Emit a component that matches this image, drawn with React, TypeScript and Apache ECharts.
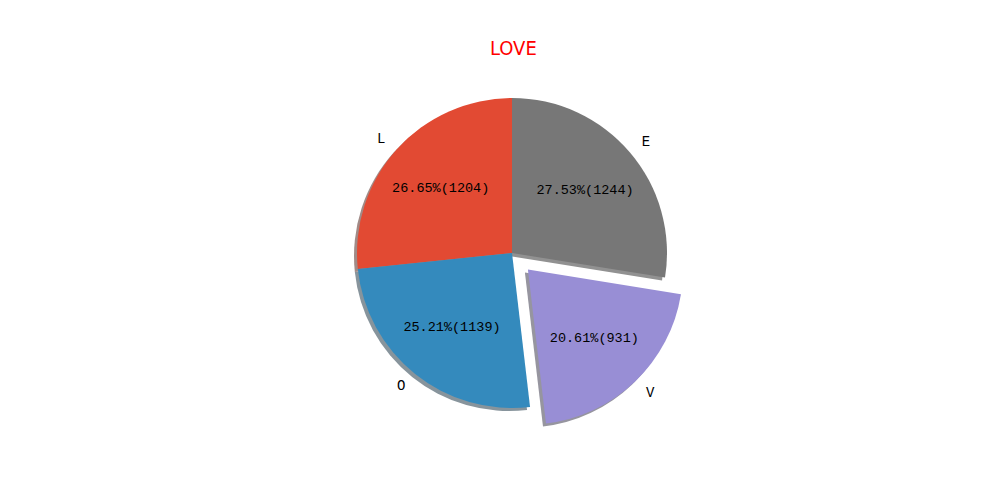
import React, { useEffect, useRef } from "react";
import * as echarts from "echarts";

const categories = ["L", "O", "V", "E"];
const values = [1204, 1139, 931, 1244];
const exploded = [false, false, true, false];
const titleText = "LOVE";

const colors = ["#E24A33", "#348ABD", "#988ED5", "#777777"];

function shadowOf(hex: string): string {
  const n = parseInt(hex.slice(1), 16);
  const ch = [(n >> 16) & 255, (n >> 8) & 255, n & 255].map((c) =>
    Math.round(c * 0.3 * 0.5 + 255 * 0.5)
  );
  return `rgb(${ch[0]},${ch[1]},${ch[2]})`;
}

export default function App() {
  const ref = useRef<HTMLDivElement>(null);
  useEffect(() => {
    document.body.style.margin = "0";
    const chart = echarts.init(ref.current!, null, { renderer: "svg" });
    const total = values.reduce((a, b) => a + b, 0);
    const R = 155;
    const cx = 512;
    const cy = 253;
    const off = 23;
    const font = "Liberation Mono";

    const mkData = (colorFn: (i: number) => string) =>
      categories.map((name, i) => ({
        name,
        value: values[i],
        selected: exploded[i],
        itemStyle: { color: colorFn(i) },
        select: { itemStyle: { color: colorFn(i) } },
      }));

    const base = {
      type: "pie",
      startAngle: 90,
      clockwise: false,
      selectedMode: "multiple",
      selectedOffset: off,
      avoidLabelOverlap: false,
      emphasis: { disabled: true },
      silent: true,
    };

    chart.setOption({
      animation: false,
      title: {
        text: titleText,
        left: 485,
        top: 33,
        textStyle: {
          color: "#ff0000",
          fontSize: 20,
          fontWeight: "normal",
          fontFamily: '"Liberation Sans Narrow", "DejaVu Sans Condensed", sans-serif',
        },
      },
      series: [
        {
          ...base,
          z: 1,
          center: [cx - 3, cy + 3],
          radius: R,
          label: { show: false },
          labelLine: { show: false },
          data: mkData((i) => shadowOf(colors[i])),
        },
        {
          ...base,
          z: 2,
          center: [cx, cy],
          radius: R,
          label: { show: false },
          labelLine: { show: false },
          data: mkData((i) => colors[i]),
        },
        {
          ...base,
          z: 3,
          center: [cx, cy],
          radius: [R * 0.6 - 30, R * 0.6 + 30],
          label: {
            show: true,
            position: "inside",
            color: "#000",
            fontSize: 13.5,
            fontFamily: font,
            formatter: (p: any) =>
              `${((values[p.dataIndex] / total) * 100).toFixed(2)}%(${values[p.dataIndex]})`,
          },
          labelLine: { show: false },
          data: mkData(() => "transparent"),
        },
        {
          ...base,
          z: 3,
          center: [cx, cy],
          radius: R * 1.1,
          label: {
            show: true,
            position: "outside",
            color: "#000",
            fontSize: 14,
            fontFamily: font,
            distanceToLabelLine: 0,
            formatter: "{b}",
          },
          labelLine: { show: false, length: 0, length2: 0 },
          data: mkData(() => "transparent"),
        },
      ],
    });
    return () => chart.dispose();
  }, []);
  return <div ref={ref} style={{ width: 1000, height: 500 }} />;
}
